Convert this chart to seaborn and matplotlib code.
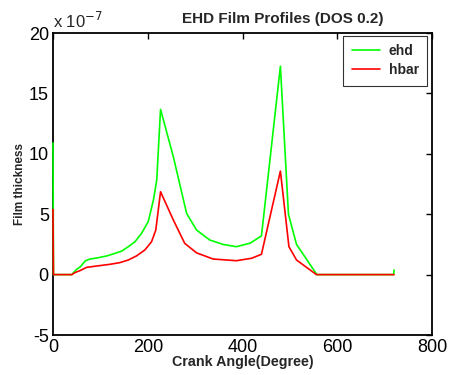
import matplotlib
matplotlib.use("Agg")
import matplotlib.pyplot as plt
import seaborn as sns
import pandas as pd

sns.set_style("white")
plt.rcParams['font.family'] = ['Liberation Sans', 'DejaVu Sans']
plt.rcParams['axes.unicode_minus'] = False

# Crank angle (deg) and film thickness (x 1e-7)
ehd_angle = [0, 1, 40, 42, 50, 58, 68, 78, 92, 113, 131, 145, 159, 173, 187, 201, 212, 219, 227,
             254, 282, 303, 331, 359, 387, 416, 440, 480, 497, 514, 557, 719, 720]
ehd_value = [10.9, 0, 0, 0.11, 0.44, 0.66, 1.13, 1.29, 1.37, 1.54, 1.76, 1.95, 2.31, 2.72, 3.42, 4.39, 6.17, 7.83, 13.68,
             9.76, 5.07, 3.69, 2.86, 2.5, 2.31, 2.6, 3.2, 17.25, 5.0, 2.5, 0, 0, 0.38]

hbar_angle = [0, 1, 40, 46, 57, 71, 92, 120, 141, 159, 176, 194, 208, 217, 227,
              254, 278, 303, 338, 387, 419, 440, 480, 498, 514, 556, 720]
hbar_value = [5.4, 0, 0, 0.16, 0.33, 0.6, 0.71, 0.85, 0.99, 1.21, 1.54, 2.04, 2.72, 3.69, 6.86,
              4.52, 2.59, 1.8, 1.29, 1.15, 1.35, 1.68, 8.57, 2.31, 1.21, 0, 0]

df = pd.concat([
    pd.DataFrame({"angle": ehd_angle, "thickness": ehd_value, "series": "ehd"}),
    pd.DataFrame({"angle": hbar_angle, "thickness": hbar_value, "series": "hbar"}),
])

fig = plt.figure(figsize=(4.51, 3.75), dpi=100)
ax = fig.add_axes([53/451, 1-335/375, (432-53)/451, (335-33)/375])

sns.lineplot(data=df, x="angle", y="thickness", hue="series",
             palette={"ehd": "#00ff00", "hbar": "#ff0000"},
             sort=False, estimator=None, linewidth=1.2, ax=ax, zorder=3)
for ln in ax.get_lines():
    ln.set_clip_on(False)

ax.set_xlim(0, 800)
ax.set_ylim(-5, 20)
ax.set_xticks([0, 200, 400, 600, 800])
ax.set_yticks([-5, 0, 5, 10, 15, 20])
ax.tick_params(direction="in", length=4, width=1, top=True, right=True,
               labelsize=13, pad=3, colors="black")
for s in ax.spines.values():
    s.set_visible(True)
    s.set_color("black")
    s.set_linewidth(1.3)
    s.set_zorder(2)

ax.set_title("EHD Film Profiles (DOS 0.2)", fontsize=11, fontweight="bold", pad=7, x=0.607)
ax.set_xlabel("Crank Angle(Degree)", fontsize=10.3, fontweight="bold", labelpad=-1)
ax.set_ylabel("Film thickness", fontsize=8.5, fontweight="bold", labelpad=2)
ax.text(0.0, 1.005, "x 10$^{-7}$", transform=ax.transAxes, fontsize=12,
        ha="left", va="bottom")

leg = ax.legend(loc="upper right", bbox_to_anchor=(0.987, 0.990), borderaxespad=0,
                frameon=True, fancybox=False, edgecolor="black",
                borderpad=0.6, handlelength=2.0, handletextpad=0.65, labelspacing=0.35,
                prop={"weight": "bold", "size": 10})
leg.get_frame().set_linewidth(0.8)

fig.savefig("out.png", dpi=100)
